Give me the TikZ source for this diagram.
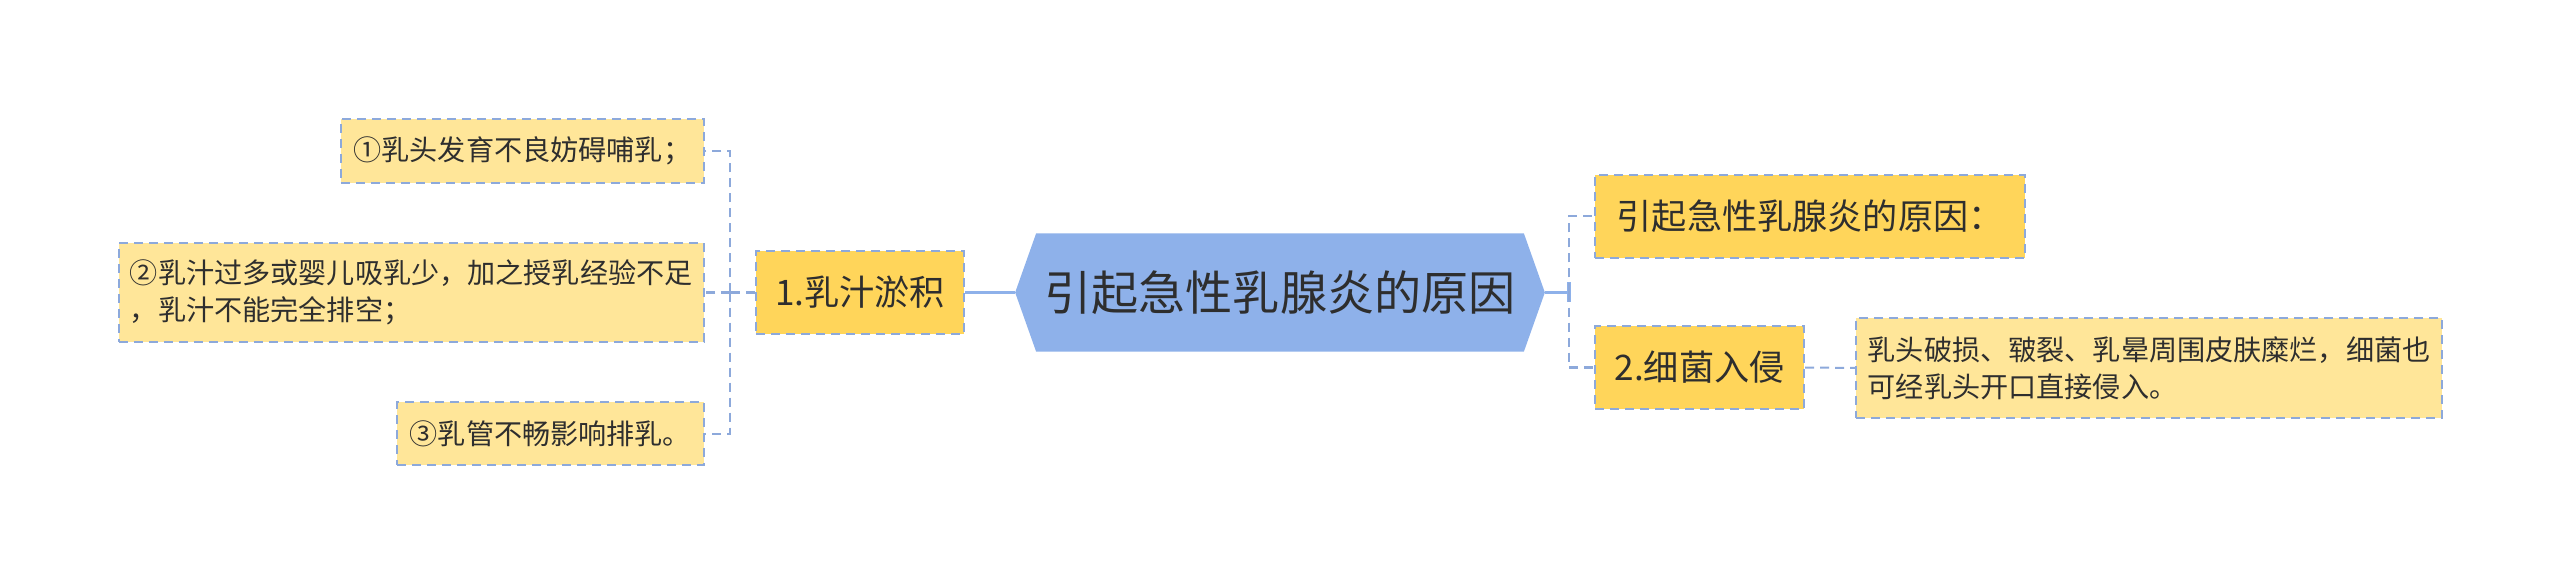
\documentclass[tikz,border=0pt]{standalone}
\usepackage{fontspec}
\newfontfamily\cjk{Noto Sans CJK SC}
\usetikzlibrary{backgrounds}
\definecolor{rootblue}{HTML}{8EB1EA}
\definecolor{dashblue}{HTML}{8DA9DB}
\definecolor{gold}{HTML}{FFD55A}
\definecolor{cream}{HTML}{FFE699}
\definecolor{ink}{HTML}{2E2E2E}
\begin{document}
\begin{tikzpicture}[x=0.01cm, y=-0.01cm,
  rootbox/.style={minimum width=5.28cm, minimum height=1.17cm, inner sep=0pt, text=ink,
    font=\cjk\fontsize{13.4}{16}\selectfont},
  topicbox/.style={fill=gold, draw=dashblue, line width=0.02cm, dash pattern=on 0.09cm off 0.06cm,
    minimum height=0.83cm, inner sep=0pt, text=ink, font=\cjk\fontsize{10}{12}\selectfont},
  leafbox/.style={fill=cream, draw=dashblue, line width=0.02cm, dash pattern=on 0.09cm off 0.06cm,
    inner sep=0pt, align=left, text=ink, font=\cjk\fontsize{8}{10.4}\selectfont},
  trunkline/.style={rootblue, line width=0.035cm},
  linkline/.style={dashblue, line width=0.02cm, dash pattern=on 0.09cm off 0.06cm}]
\useasboundingbox (0,0) rectangle (2560,585);
\node[rootbox] (root) at (1280,292.5) {引起急性乳腺炎的原因};
\begin{scope}[on background layer]
\fill[rootblue] (root.west) -- ([xshift=0.21cm]root.north west) -- ([xshift=-0.21cm]root.north east)
  -- (root.east) -- ([xshift=-0.21cm]root.south east) -- ([xshift=0.21cm]root.south west) -- cycle;
\end{scope}
\node[topicbox, minimum width=2.08cm] (milk) at (860,292.5) {1.乳汁淤积};
\node[leafbox, minimum width=3.63cm, minimum height=0.64cm, anchor=east] (nipple) at (705,151) {①乳头发育不良妨碍哺乳；};
\node[leafbox, minimum width=5.85cm, minimum height=0.99cm, anchor=east] (excess) at (705,292.5)
  {②乳汁过多或婴儿吸乳少，加之授乳经验不足\\，乳汁不能完全排空；};
\node[leafbox, minimum width=3.07cm, minimum height=0.63cm, anchor=east] (duct) at (705,433.5) {③乳管不畅影响排乳。};
\node[topicbox, minimum width=4.30cm, anchor=west] (cause) at (1594,216.5) {引起急性乳腺炎的原因：};
\node[topicbox, minimum width=2.09cm, anchor=west] (germ) at (1594,367.5) {2.细菌入侵};
\node[leafbox, minimum width=5.86cm, minimum height=1.0cm, anchor=west] (entry) at (1855,368)
  {乳头破损、皲裂、乳晕周围皮肤糜烂，细菌也\\可经乳头开口直接侵入。};
\coordinate (lspine) at (730,292.5);
\coordinate (rspine) at (1569,292.5);
\draw[trunkline] (root.west) -- (milk.east);
\draw[linkline] (milk.west) -- (lspine);
\draw[linkline] (lspine) |- (nipple.east);
\draw[linkline] (lspine) -- (excess.east);
\draw[linkline] (lspine) |- (duct.east);
\draw[trunkline] (root.east) -- (rspine) ++(0,-10) -- ++(0,20);
\draw[linkline] (rspine) |- (cause.west);
\draw[linkline] (rspine) |- (germ.west);
\draw[linkline] (germ.east) -- (entry.west);
\end{tikzpicture}
\end{document}
